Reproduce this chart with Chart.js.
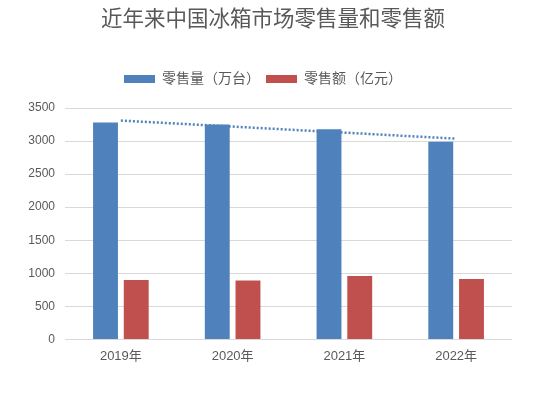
<!DOCTYPE html>
<html>
<head>
<meta charset="utf-8">
<script src="https://cdn.jsdelivr.net/npm/chart.js@4.4.0/dist/chart.umd.min.js"></script>
<style>
html,body{margin:0;padding:0;background:#fff;}
#wrap{width:550px;height:395px;position:relative;}
</style>
</head>
<body>
<div id="wrap"><canvas id="c" width="550" height="395"></canvas></div>
<script>
const titleText = '近年来中国冰箱市场零售量和零售额';
const categories = ['2019年', '2020年', '2021年', '2022年'];
const seriesNames = ['零售量（万台）', '零售额（亿元）'];
const retailVolume = [3280, 3250, 3180, 2990];
const retailValue = [900, 890, 960, 915];
const volumeTrend = [3310, null, null, 3036];
const yTicks = [0, 500, 1000, 1500, 2000, 2500, 3000, 3500];

const grey = '#595959';
const cjkSerif = '"Liberation Serif", "Noto Sans CJK SC", serif';
const sans = '"Liberation Sans", "Noto Sans CJK SC", sans-serif';

const titlePlugin = {
  id: 'customTitle',
  afterDraw(chart) {
    const ctx = chart.ctx;
    ctx.save();
    ctx.fillStyle = grey;
    ctx.font = '21.5px ' + cjkSerif;
    ctx.textAlign = 'center';
    ctx.textBaseline = 'middle';
    ctx.fillText(titleText, 273, 20);
    ctx.restore();
  }
};

const legendSpacer = {
  id: 'legendSpacer',
  beforeInit(chart) {
    const lg = chart.legend;
    if (!lg) return;
    const orig = lg.fit;
    lg.fit = function () {
      orig.call(this);
      this.height += 12;
    };
  }
};

new Chart(document.getElementById('c'), {
  type: 'bar',
  data: {
    labels: categories,
    datasets: [
      {
        type: 'line',
        label: 'trend',
        data: volumeTrend,
        spanGaps: true,
        borderColor: '#4F81BD',
        borderWidth: 2.5,
        borderDash: [2, 2],
        pointRadius: 0,
        fill: false,
        order: 0
      },
      {
        label: seriesNames[0],
        data: retailVolume,
        backgroundColor: '#4F81BD',
        categoryPercentage: 0.55,
        barPercentage: 0.81,
        order: 1
      },
      {
        label: seriesNames[1],
        data: retailValue,
        backgroundColor: '#C0504D',
        categoryPercentage: 0.55,
        barPercentage: 0.81,
        order: 1
      }
    ]
  },
  plugins: [titlePlugin, legendSpacer],
  options: {
    responsive: false,
    animation: false,
    devicePixelRatio: 1,
    layout: { padding: { left: 14, right: 38, top: 66, bottom: 22 } },
    plugins: {
      tooltip: { enabled: false },
      title: { display: false },
      legend: {
        display: true,
        position: 'top',
        labels: {
          color: grey,
          font: { family: cjkSerif, size: 14 },
          boxWidth: 31,
          boxHeight: 8,
          padding: 6,
          filter: (item) => item.text !== 'trend'
        }
      }
    },
    scales: {
      x: {
        grid: { display: false, drawTicks: false },
        border: { display: false },
        ticks: { color: grey, font: { family: sans, size: 13 }, padding: 9 }
      },
      y: {
        min: 0,
        max: 3500,
        afterBuildTicks: (s) => { s.ticks = yTicks.map(v => ({ value: v })); },
        afterFit: (s) => { s.width = 51; },
        grid: { color: '#D9D9D9', lineWidth: 1, drawTicks: false },
        border: { display: false },
        ticks: {
          color: grey,
          font: { family: '"Liberation Sans", sans-serif', size: 12 },
          padding: 10,
          callback: (v) => String(v)
        }
      }
    }
  }
});
</script>
</body>
</html>
